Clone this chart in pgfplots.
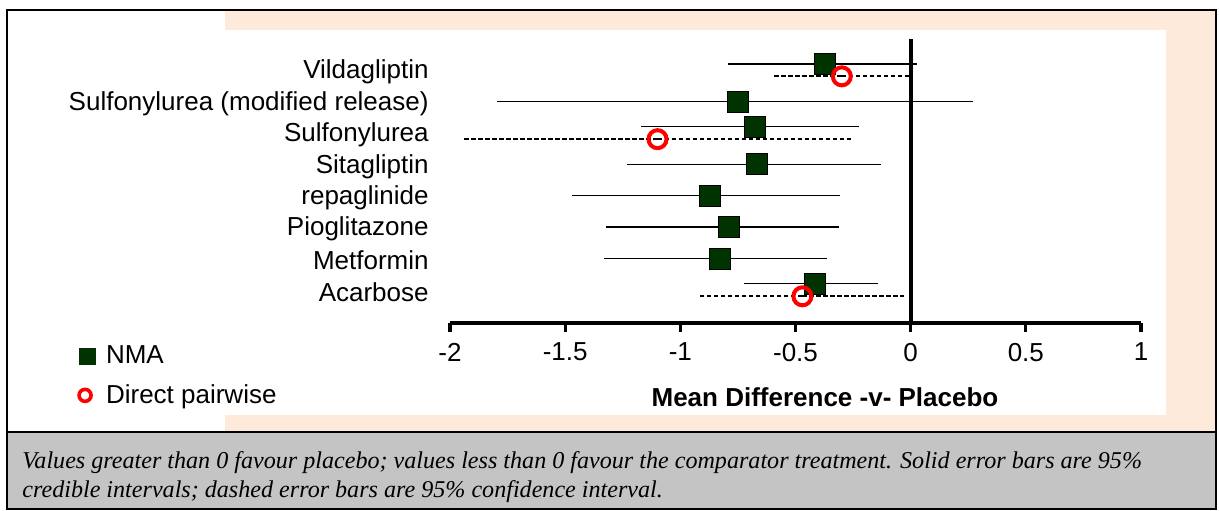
\documentclass[border=0pt]{standalone}
\usepackage{fontspec}
\setmainfont{Liberation Sans}
\newfontfamily\capfont{Liberation Serif}
\usepackage{pgfplots}
\usepackage{pgfplotstable}
\pgfplotsset{compat=1.18}
\definecolor{peach}{RGB}{253,234,218}
\definecolor{capgray}{RGB}{196,196,196}
\definecolor{nmagreen}{RGB}{0,51,0}

% row y, point estimate, interval low, interval high
\pgfplotstableread{
y    x      lo     hi
8.2  -0.374 -0.794  0.028
7    -0.751 -1.798  0.272
6.2  -0.678 -1.169 -0.226
5    -0.668 -1.231 -0.131
4    -0.872 -1.470 -0.308
3    -0.789 -1.322 -0.311
2    -0.829 -1.330 -0.362
1.2  -0.417 -0.723 -0.140
}\nma
\pgfplotstableread{
y    x      lo     hi
7.8  -0.299 -0.598 -0.009
5.8  -1.099 -1.938 -0.258
0.8  -0.470 -0.918 -0.029
}\direct

\begin{document}
\begin{tikzpicture}
\begin{scope}[x=0.5pt,y=-0.5pt]
\useasboundingbox (0,0) rectangle (1219,510);
\fill[white] (0,0) rectangle (1219,510);
\fill[peach] (225,10) rectangle (1216,432);
\fill[white] (7,30) rectangle (1166,415);
\fill[white] (7,10) rectangle (225,432);
\fill[capgray] (7,432) rectangle (1216,509);
\draw[line width=1pt] (7,432) -- (1216,432);
\draw[line width=1pt] (7,10) rectangle (1216,509);
\node[anchor=west, inner sep=0pt, font=\capfont\itshape\fontsize{12.05}{14}\selectfont] at (22,463)
  {Values greater than 0 favour placebo; values less than 0 favour the comparator treatment. Solid error bars are 95\%};
\node[anchor=west, inner sep=0pt, font=\capfont\itshape\fontsize{12.05}{14}\selectfont] at (22,492)
  {credible intervals; dashed error bars are 95\% confidence interval.};
\end{scope}
\begin{axis}[
    at={(225pt,-161.5pt)}, anchor=south west,
    scale only axis, width=345.5pt, height=142.2pt,
    xmin=-2, xmax=1, ymin=-0.05, ymax=9,
    clip=false,
    axis x line*=bottom, axis y line*=left,
    y axis line style={draw=none},
    x axis line style={line width=1.6pt},
    xtick={-2,-1.5,...,1},
    xticklabels={-2,-1.5,-1,-0.5,0,0.5,1},
    tick align=outside, major tick length=4.5pt,
    xtick style={line width=1.6pt, black},
    ytick={1,...,8},
    yticklabels={Acarbose,Metformin,Pioglitazone,repaglinide,Sitagliptin,Sulfonylurea,Sulfonylurea (modified release),Vildagliptin},
    ytick style={draw=none},
    yticklabel style={anchor=east, inner sep=0pt, xshift=-6pt, yshift=-1pt},
    xticklabel style={yshift=-2pt},
    tick label style={font=\fontsize{13}{15}\selectfont},
    xlabel={\textbf{Mean Difference -v- Placebo}},
    xlabel style={at={(axis description cs:0.5427,-0.26)}, anchor=center, font=\fontsize{13}{15}\selectfont},
    legend style={at={(-0.54,-0.186)}, anchor=west, draw=none, fill=none, inner sep=0pt,
        row sep=5pt, font=\fontsize{13}{15}\selectfont},
    legend cell align=left,
]
\addplot[black, line width=2pt, forget plot] coordinates {(0,-0.05) (0,9)};
\addplot[only marks, mark=square*, mark size=5.25pt,
    mark options={fill=nmagreen, draw=none},
    legend image code/.code={
      \fill[nmagreen] (-4pt,-4pt) rectangle (4pt,4pt);
      \path[draw=none] (-4pt,0pt) -- (7.5pt,0pt);},
    error bars/.cd, x dir=both, x explicit, error mark=none,
    error bar style={line width=0.75pt, black}]
    table[x=x, y=y,
      x error plus expr=\thisrow{hi}-\thisrow{x},
      x error minus expr=\thisrow{x}-\thisrow{lo}] {\nma};
\addlegendentry{NMA}
\addplot[only marks, mark=o, mark size=4.5pt,
    mark options={draw=red, line width=2pt, fill=none},
    legend image code/.code={
      \draw[red, line width=1.8pt] (-1pt,0pt) circle (3pt);
      \path[draw=none] (-4pt,0pt) -- (7.5pt,0pt);},
    error bars/.cd, x dir=both, x explicit, error mark=none,
    error bar style={line width=1pt, black, dash pattern=on 2.2pt off 1.3pt}]
    table[x=x, y=y,
      x error plus expr=\thisrow{hi}-\thisrow{x},
      x error minus expr=\thisrow{x}-\thisrow{lo}] {\direct};
\addlegendentry{Direct pairwise}
\end{axis}
\end{tikzpicture}
\end{document}
